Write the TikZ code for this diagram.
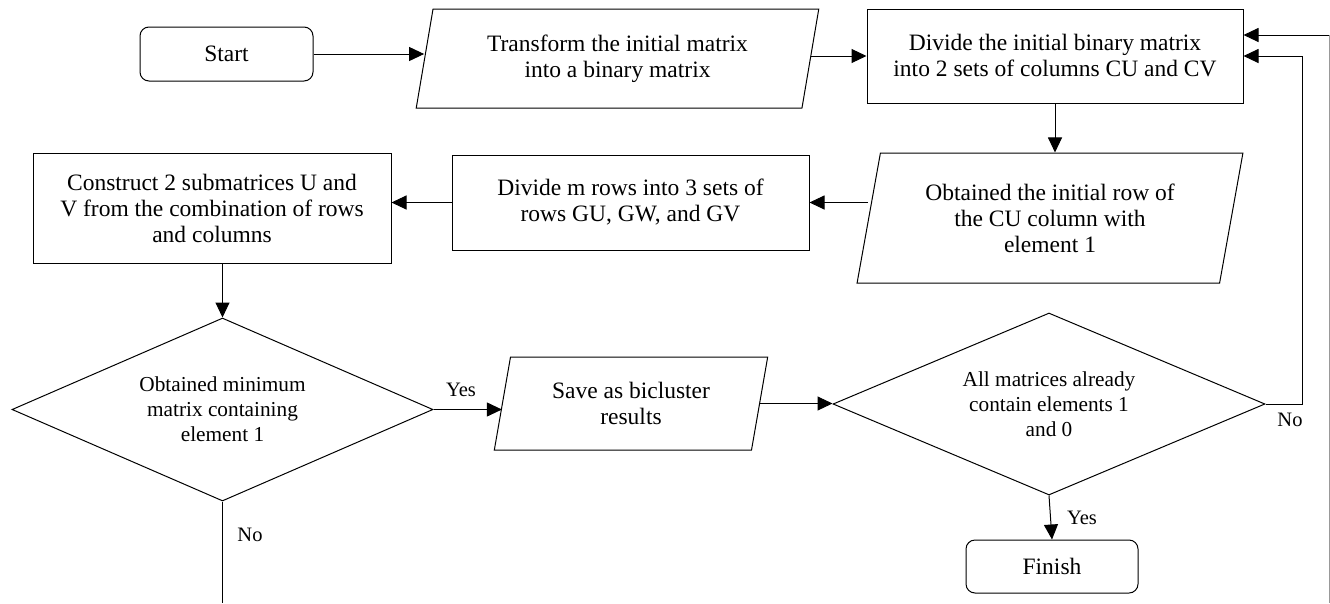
\documentclass[tikz,border=0pt]{standalone}
\usepackage{fontspec}
\setmainfont{Liberation Serif}
\usetikzlibrary{shapes.geometric,arrows.meta}
\tikzset{
  base/.style={draw=black, line width=1pt, inner sep=0pt, align=center,
    font=\fontsize{23.5}{26}\selectfont},
  termbox/.style={base, rectangle, rounded corners=9pt},
  procbox/.style={base, rectangle},
  iobox/.style={base, trapezium, trapezium left angle=76, trapezium right angle=104,
    trapezium stretches=true},
  decbox/.style={base, diamond, font=\fontsize{21.3}{25}\selectfont},
  lbl/.style={font=\fontsize{20.5}{24}\selectfont, inner sep=0pt},
  arr/.style={line width=1pt, -{Triangle[length=15pt,width=14pt]}},
  ln/.style={line width=1pt}
}
\begin{document}
\begin{tikzpicture}[x=1pt,y=-1pt]
\useasboundingbox (0,0) rectangle (1330,603);
\node[termbox, minimum width=173pt, minimum height=54pt] (start) at (226.5,54) {Start};
\node[iobox, minimum width=403pt, minimum height=99pt] (para1) at (617.5,58.5) {Transform the initial matrix\\into a binary matrix};
\node[procbox, minimum width=376pt, minimum height=94pt] (divide) at (1055,56) {Divide the initial binary matrix\\into 2 sets of columns CU and CV};
\node[iobox, minimum width=386pt, minimum height=130pt] (para2) at (1050,218) {Obtained the initial row of\\the CU column with\\element 1};
\node[procbox, minimum width=357pt, minimum height=95pt] (dividem) at (630.5,202.5) {Divide m rows into 3 sets of\\rows GU, GW, and GV};
\node[procbox, minimum width=358pt, minimum height=110pt] (construct) at (212,208) {Construct 2 submatrices U and\\V from the combination of rows\\and columns};
\node[decbox, minimum width=421pt, minimum height=183pt, aspect=2.3] (dia1) at (222.5,409.5) {Obtained minimum\\matrix containing\\element 1};
\node[iobox, minimum width=274pt, minimum height=93pt] (para3) at (631,403.5) {Save as bicluster\\results};
\node[decbox, minimum width=432pt, minimum height=182pt, aspect=2.37] (dia2) at (1049,404) {All matrices already\\contain elements 1\\and 0};
\node[termbox, minimum width=172pt, minimum height=53pt] (finish) at (1052,566.5) {Finish};

\coordinate (r1) at (1302,404);
\coordinate (e1) at (1329,603);
\coordinate (e2) at (1329,35);
\coordinate (n1) at (222.5,603);

\draw[arr] (start.east) -- (start.east -| para1.west);
\draw[arr] (divide.west -| para1.east) -- (divide.west);
\draw[arr] (divide.south) -- (divide.south |- para2.north);
\draw[arr] (dividem.east -| para2.west) -- (dividem.east);
\draw[arr] (dividem.west) -- (dividem.west -| construct.east);
\draw[arr] (dia1.north |- construct.south) -- (dia1.north);
\draw[arr] (dia1.east) -- (dia1.east -| para3.west);
\draw[arr] (para3.east) -- (para3.east -| dia2.west);
\draw[arr] (dia2.east) -- (r1) |- (divide.east);
\draw[arr] (dia2.south) -- (finish.north);
\draw[ln] (dia1.south) -- (n1);
\draw[ln, draw=black!40] (e1) -- (e2);
\draw[arr] (e2) -- (e2 -| divide.east);

\node[lbl] (yes1) at (461,390) {Yes};
\node[lbl] (no1) at (250,535) {No};
\node[lbl] (no2) at (1290,420) {No};
\node[lbl] (yes2) at (1082,518) {Yes};
\end{tikzpicture}
\end{document}
